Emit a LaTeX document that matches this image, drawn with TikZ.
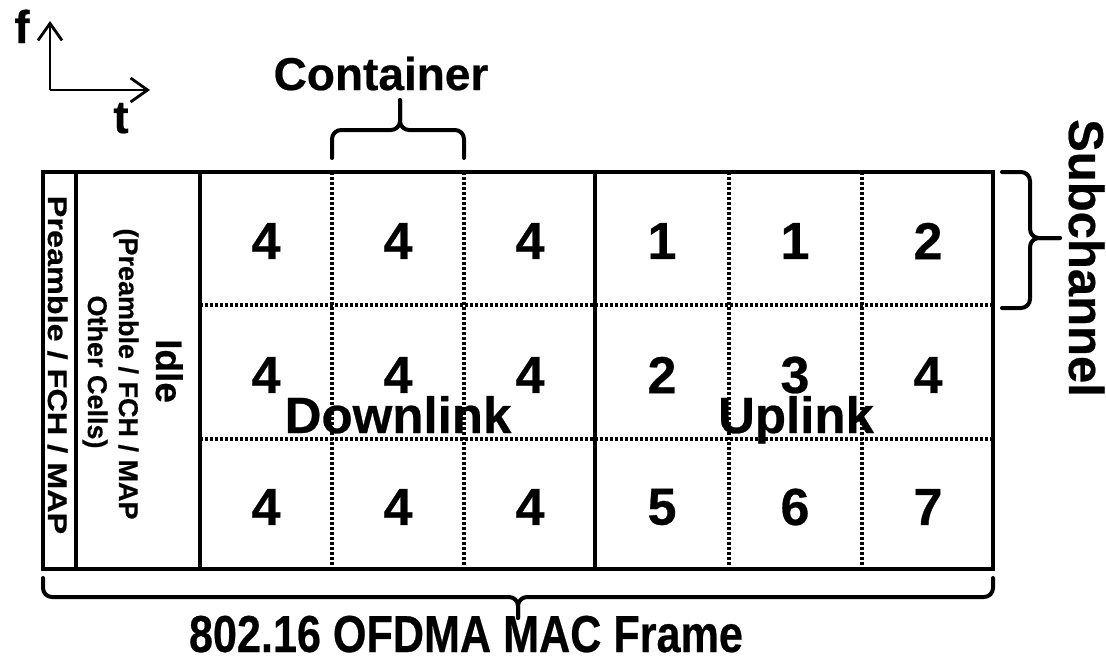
\documentclass[tikz,border=0pt]{standalone}
\usepackage{fontspec}
\setmainfont{Liberation Sans}[BoldFeatures={FakeBold=0.5}]
\usetikzlibrary{arrows.meta}
\begin{document}
\begin{tikzpicture}[x=1pt,y=-1pt,
  framebold/.style={line width=4.5pt},
  gridline/.style={line width=3.2pt, dash pattern=on 3pt off 2pt},
  braceline/.style={line width=4pt, line cap=round, line join=round, rounded corners=9pt},
  axisline/.style={line width=2.8pt, -{Straight Barb[length=17pt,width=24pt]}},
  lbl/.style={inner sep=0pt, font=\bfseries},
  cellnum/.style={lbl, font=\fontsize{52}{58}\selectfont\bfseries},
  bigword/.style={lbl, anchor=base, font=\fontsize{51}{58}\selectfont\bfseries},
  sidetxt/.style={lbl, anchor=base, rotate=-90, font=\fontsize{27}{32}\selectfont\bfseries}
]
\useasboundingbox (0,0) rectangle (1106,662);

% axes
\coordinate (origin) at (50,90);
\coordinate (ftip) at (50,21);
\coordinate (ttip) at (150,90);
\draw[axisline] (origin) -- (ftip);
\draw[axisline] (origin) -- (ttip);
\node[lbl, anchor=base, font=\fontsize{46}{50}\selectfont\bfseries] (flbl) at (22,43) {f};
\node[lbl, anchor=base, font=\fontsize{46}{50}\selectfont\bfseries] (tlbl) at (121,133) {t};

% grid (dotted)
\foreach \yy in {305,439} \draw[gridline] (200,\yy) -- (993,\yy);
\foreach \xx in {332,464,729,862} \draw[gridline] (\xx,172) -- (\xx,569);

% frame (solid)
\draw[framebold] (43,172) rectangle (993,569);
\foreach \xx in {76,200,595} \draw[framebold] (\xx,172) -- (\xx,569);

% cell numbers
\node[cellnum] (c11) at (266,241) {4};
\node[cellnum] (c12) at (398,241) {4};
\node[cellnum] (c13) at (530,241) {4};
\node[cellnum] (c14) at (662,241) {1};
\node[cellnum] (c15) at (795,241) {1};
\node[cellnum] (c16) at (928,241) {2};
\node[cellnum] (c21) at (266,375) {4};
\node[cellnum] (c22) at (398,375) {4};
\node[cellnum] (c23) at (530,375) {4};
\node[cellnum] (c24) at (662,375) {2};
\node[cellnum] (c25) at (795,375) {3};
\node[cellnum] (c26) at (928,375) {4};
\node[cellnum] (c31) at (266,507) {4};
\node[cellnum] (c32) at (398,507) {4};
\node[cellnum] (c33) at (530,507) {4};
\node[cellnum] (c34) at (662,507) {5};
\node[cellnum] (c35) at (795,507) {6};
\node[cellnum] (c36) at (928,507) {7};

\node[bigword] (down) at (398,433) {Downlink};
\node[bigword] (up) at (796,433) {Uplink};

% left columns
\node[sidetxt] (pre) at (48,365) {\scalebox{1.2}[1]{Preamble / FCH / MAP}};
\node[sidetxt, font=\fontsize{37}{40}\selectfont\bfseries] (idle) at (156,371) {Idle};
\node[sidetxt] (idle2) at (119,374) {(Preamble / FCH / MAP};
\node[sidetxt] (idle3) at (88,372) {Other Cells)};

% container brace
\coordinate (cl) at (332,158);
\coordinate (cr) at (464,158);
\coordinate (ctip) at (400,100);
\draw[braceline] (cl) -- (332,130) -- (400,130) -- (ctip);
\draw[braceline] (cr) -- (464,130) -- (400,130) -- (ctip);
\node[bigword, font=\fontsize{46}{50}\selectfont\bfseries] (cont) at (381,90) {Container};

% subchannel brace
\coordinate (st) at (1002,172);
\coordinate (sb) at (1002,308);
\coordinate (stip) at (1060,238);
\draw[braceline] (st) -- (1030,172) -- (1030,238) -- (stip);
\draw[braceline] (sb) -- (1030,308) -- (1030,238) -- (stip);
\node[lbl, anchor=base, rotate=-90, font=\fontsize{49}{56}\selectfont\bfseries] (sub) at (1069,258) {Subchannel};

% frame brace
\coordinate (bl) at (43,578);
\coordinate (br) at (993,578);
\coordinate (btip) at (518,618);
\draw[braceline] (bl) -- (43,597) -- (518,597) -- (btip);
\draw[braceline] (br) -- (993,597) -- (518,597) -- (btip);
\node[lbl, anchor=base, font=\fontsize{52}{58}\selectfont\bfseries] (frame) at (466,652) {\scalebox{0.83}[1]{802.16 OFDMA MAC Frame}};
\end{tikzpicture}
\end{document}
